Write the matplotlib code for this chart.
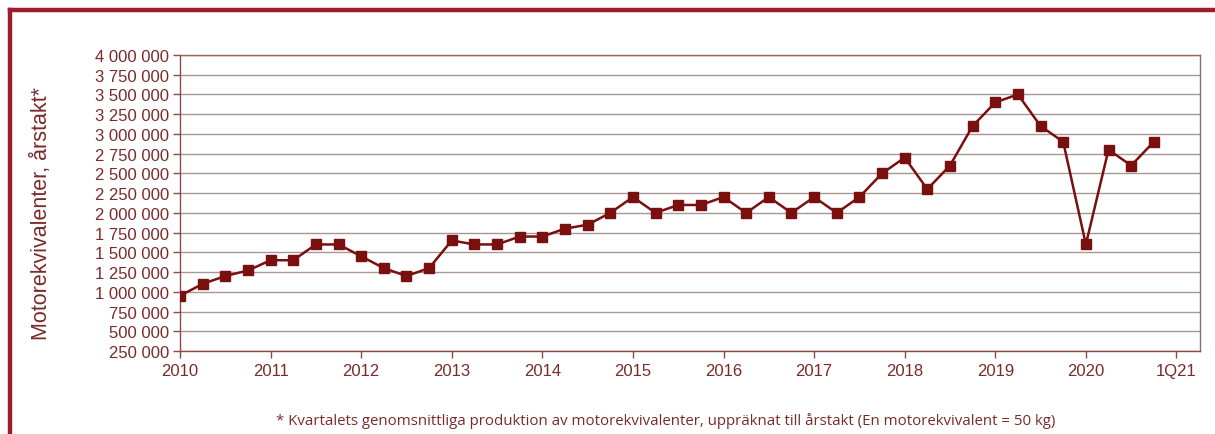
import matplotlib
matplotlib.use("Agg")
import matplotlib.pyplot as plt
from matplotlib.lines import Line2D
from matplotlib.ticker import FuncFormatter, MultipleLocator

# Quarterly data, 2010 Q1 .. 2020 Q4
quarters = [2010 + i * 0.25 for i in range(44)]
values = [
    950000, 1100000, 1200000, 1270000,
    1400000, 1400000, 1600000, 1600000,
    1450000, 1300000, 1200000, 1300000,
    1650000, 1600000, 1600000, 1700000,
    1700000, 1800000, 1850000, 2000000,
    2200000, 2000000, 2100000, 2100000,
    2200000, 2000000, 2200000, 2000000,
    2200000, 2000000, 2200000, 2500000,
    2700000, 2300000, 2600000, 3100000,
    3400000, 3500000, 3100000, 2900000,
    1600000, 2800000, 2600000, 2900000,
]
xtick_pos = [2010, 2011, 2012, 2013, 2014, 2015, 2016, 2017, 2018, 2019, 2020, 2021]
xtick_labels = ["2010", "2011", "2012", "2013", "2014", "2015", "2016", "2017",
                "2018", "2019", "2020", "1Q21"]

ylabel = "Motorekvivalenter, årstakt*"
footnote = "* Kvartalets genomsnittliga produktion av motorekvivalenter, uppräknat till årstakt (En motorekvivalent = 50 kg)"

text_color = "#7a2a2a"
line_color = "#7a0f0f"
grid_color = "#a89595"
frame_color = "#9b1d2e"

plt.rcParams["font.family"] = ["Liberation Sans", "DejaVu Sans"]

fig = plt.figure(figsize=(12.15, 4.35), dpi=100)
ax = fig.add_axes([180 / 1215, 83 / 435, 1020 / 1215, 296 / 435])

ax.plot(quarters, values, color=line_color, lw=1.8, marker="s", ms=6.5,
        mfc=line_color, mec=line_color, zorder=3)

ax.set_xlim(2010, 2021.26)
ax.set_ylim(250000, 4000000)
ax.yaxis.set_major_locator(MultipleLocator(250000))
ax.yaxis.set_major_formatter(FuncFormatter(lambda v, p: f"{int(round(v)):,}".replace(",", " ")))
ax.set_xticks(xtick_pos)
ax.set_xticklabels(xtick_labels)

ax.grid(axis="y", color=grid_color, lw=1.0)
ax.set_axisbelow(True)
for s in ["left", "bottom"]:
    ax.spines[s].set_color("#8a4a4a")
    ax.spines[s].set_linewidth(1.0)
ax.spines["top"].set_color("#a06060")
ax.spines["top"].set_linewidth(1.0)
ax.spines["right"].set_color("#807070")
ax.spines["right"].set_linewidth(1.0)

ax.tick_params(axis="both", colors="#8a4a4a", labelcolor=text_color,
               labelsize=12, length=5, width=1.0)
ax.tick_params(axis="x", pad=4, labelsize=12)
ax.tick_params(axis="y", pad=3)

fig.text(41 / 1215, 1 - 214 / 435, ylabel, rotation=90, ha="center", va="center",
         fontsize=15.5, color=text_color)

fig.text(666 / 1215, 1 - 421 / 435, footnote, ha="center", va="center",
         fontsize=10.8, color=text_color, family=["Open Sans", "DejaVu Sans"])

# outer frame (top and left)
fig.add_artist(Line2D([10 / 1215, 1.0], [1 - 11 / 435, 1 - 11 / 435],
                      transform=fig.transFigure, color=frame_color, lw=3.2))
fig.add_artist(Line2D([10 / 1215, 10 / 1215], [0, 1 - 11 / 435],
                      transform=fig.transFigure, color=frame_color, lw=3.2))

fig.savefig("out.png", dpi=100)
